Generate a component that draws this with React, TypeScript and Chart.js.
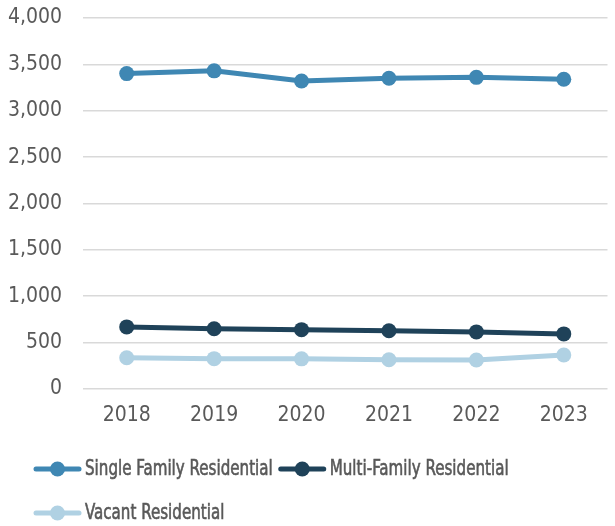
import React, { useEffect, useRef } from "react";
import { Chart, registerables } from "chart.js";

Chart.register(...registerables);

const years = ["2018", "2019", "2020", "2021", "2022", "2023"];
const singleFamily = [3400, 3430, 3320, 3350, 3360, 3340];
const multiFamily = [668, 648, 638, 626, 614, 592];
const vacant = [335, 325, 323, 313, 310, 365];
const seriesNames = ["Single Family Residential", "Multi-Family Residential", "Vacant Residential"];
const seriesColors = ["#3f87b3", "#1f4259", "#b0d1e3"];

const FONT = '"Liberation Sans Narrow", "DejaVu Sans Condensed", "Roboto Condensed", sans-serif';
const TEXT = "#595959";

const legendPlugin = {
  id: "customLegend",
  afterDraw(chart: any) {
    const ctx = chart.ctx;
    const ds = chart.data.datasets;
    ctx.save();
    ctx.font = `21px ${FONT}`;
    ctx.textBaseline = "middle";
    ctx.textAlign = "left";
    const squeeze = 0.8;
    const rows = [
      { y: 469, items: [0, 1] },
      { y: 513, items: [2] },
    ];
    rows.forEach((row) => {
      let x = 34;
      row.items.forEach((i) => {
        const d = ds[i];
        ctx.strokeStyle = d.borderColor;
        ctx.lineWidth = 5;
        ctx.lineCap = "round";
        ctx.beginPath();
        ctx.moveTo(x + 2, row.y);
        ctx.lineTo(x + 45, row.y);
        ctx.stroke();
        ctx.fillStyle = d.borderColor;
        ctx.beginPath();
        ctx.arc(x + 23.5, row.y, 7.5, 0, Math.PI * 2);
        ctx.fill();
        ctx.fillStyle = TEXT;
        ctx.strokeStyle = TEXT;
        ctx.lineWidth = 0.6;
        const w = ctx.measureText(d.label).width * squeeze;
        ctx.save();
        ctx.translate(x + 51, row.y + 1);
        ctx.scale(squeeze, 1);
        ctx.fillText(d.label, 0, 0);
        ctx.strokeText(d.label, 0, 0);
        ctx.restore();
        x += 51 + w + 6;
      });
    });
    ctx.restore();
  },
};

export default function App() {
  const ref = useRef<HTMLCanvasElement>(null);
  useEffect(() => {
    document.body.style.margin = "0";
    const data = [singleFamily, multiFamily, vacant];
    const chart = new Chart(ref.current!, {
      type: "line",
      data: {
        labels: years,
        datasets: data.map((d, i) => ({
          label: seriesNames[i],
          data: d,
          borderColor: seriesColors[i],
          backgroundColor: seriesColors[i],
          pointBackgroundColor: seriesColors[i],
          pointBorderColor: seriesColors[i],
          borderWidth: 5,
          pointRadius: 7.5,
          pointBorderWidth: 0,
          tension: 0,
        })),
      },
      options: {
        animation: false,
        responsive: false,
        layout: { padding: { top: 18, bottom: 84, left: 0, right: 0 } },
        plugins: { legend: { display: false }, tooltip: { enabled: false } },
        scales: {
          x: {
            offset: true,
            grid: { display: false, drawTicks: false },
            border: { display: false },
            ticks: { color: TEXT, font: { family: FONT, size: 21 }, padding: 14 },
          },
          y: {
            min: 0,
            max: 4000,
            grid: { color: "#d9d9d9", lineWidth: 1.5, drawTicks: false },
            border: { display: false },
            ticks: {
              stepSize: 500,
              color: TEXT,
              font: { family: FONT, size: 21 },
              padding: 21,
              callback: (v: any) => Number(v).toLocaleString("en-US"),
            },
            afterFit: (scale: any) => {
              scale.width = 83;
              scale.paddingTop = 0;
              scale.paddingBottom = 0;
            },
          },
        },
      },
      plugins: [legendPlugin],
    });
    return () => chart.destroy();
  }, []);
  return (
    <div style={{ width: 615, height: 526 }}>
      <canvas ref={ref} width={615} height={526} style={{ display: "block" }} />
    </div>
  );
}
